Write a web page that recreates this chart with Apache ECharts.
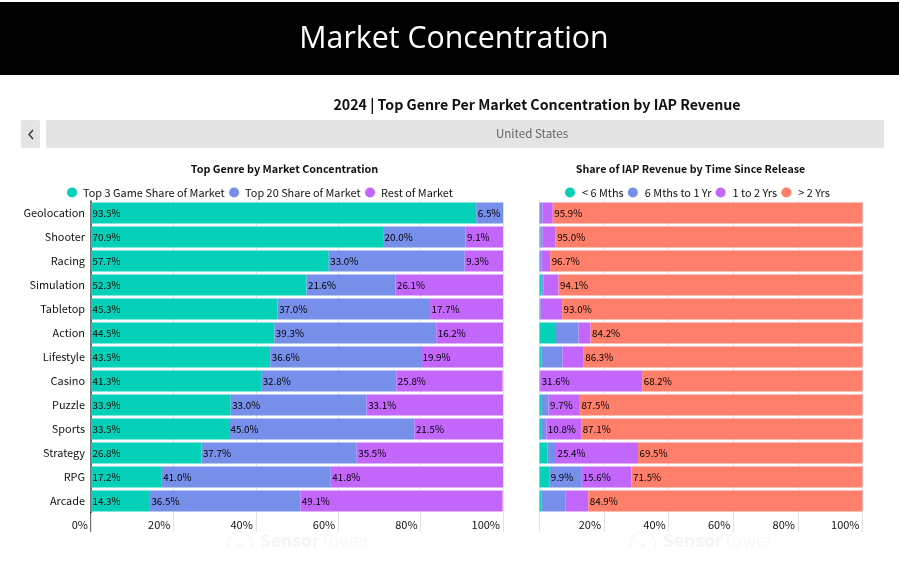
<!DOCTYPE html>
<html>
<head>
<meta charset="utf-8">
<title>Market Concentration</title>
<script src="https://cdn.jsdelivr.net/npm/echarts@6/dist/echarts.min.js"></script>
<style>
html, body { margin: 0; padding: 0; background: #fff; }
#main { width: 900px; height: 571px; }
</style>
</head>
<body>
<div id="main"></div>
<script>
var genres = ['Geolocation', 'Shooter', 'Racing', 'Simulation', 'Tabletop', 'Action', 'Lifestyle', 'Casino', 'Puzzle', 'Sports', 'Strategy', 'RPG', 'Arcade'];

// left panel
var top3Share = [93.5, 70.9, 57.7, 52.3, 45.3, 44.5, 43.5, 41.3, 33.9, 33.5, 26.8, 17.2, 14.3];
var top20Share = [6.5, 20.0, 33.0, 21.6, 37.0, 39.3, 36.6, 32.8, 33.0, 45.0, 37.7, 41.0, 36.5];
var restShare = [0, 9.1, 9.3, 26.1, 17.7, 16.2, 19.9, 25.8, 33.1, 21.5, 35.5, 41.8, 49.1];

// right panel
var under6m = [0.1, 0.3, 0.1, 0.7, 0.1, 5.1, 0.6, 0.1, 0.5, 0.5, 2.5, 3.0, 0.6];
var m6to1y = [0.8, 0.6, 0.5, 0.5, 0.3, 7.0, 6.5, 0.1, 2.3, 1.6, 2.6, 9.9, 7.4];
var y1to2 = [3.2, 4.1, 2.7, 4.7, 6.6, 3.7, 6.6, 31.6, 9.7, 10.8, 25.4, 15.6, 7.1];
var over2y = [95.9, 95.0, 96.7, 94.1, 93.0, 84.2, 86.3, 68.2, 87.5, 87.1, 69.5, 71.5, 84.9];

var TEAL = '#04d1b8', BLUE = '#768fe9', PURPLE = '#c366fb', CORAL = '#ff7f6a';
var FONT = '"Noto Sans CJK SC", "Noto Sans", sans-serif';

function barSeries(name, values, color, axisIndex, minLabel) {
    return {
        name: name,
        type: 'bar',
        stack: 'panel' + axisIndex,
        xAxisIndex: axisIndex,
        yAxisIndex: axisIndex,
        barWidth: 21,
        data: values,
        itemStyle: { color: color },
        label: {
            show: true,
            position: 'insideLeft',
            distance: 1.5,
            color: '#000',
            fontFamily: FONT,
            fontSize: 9.8,
            formatter: function (p) {
                return p.value >= minLabel ? p.value.toFixed(1) + '%' : '';
            }
        }
    };
}

function xAxisFor(gridIndex, hideZero) {
    return {
        type: 'value',
        gridIndex: gridIndex,
        min: 0,
        max: 100,
        interval: 20,
        axisLine: { show: false },
        axisTick: { show: true, inside: false, length: 19, lineStyle: { color: '#e2e2e2' } },
        splitLine: { show: true, lineStyle: { color: '#e2e2e2' } },
        axisLabel: {
            color: '#111',
            fontFamily: FONT,
            fontSize: 11,
            align: 'right',
            margin: 6,
            padding: [0, 3, 0, 0],
            formatter: function (v) { return (hideZero && v === 0) ? '' : v + '%'; }
        }
    };
}

function watermark(x) {
    return [
        { type: 'ring', shape: { cx: x, cy: 544, r: 13, r0: 11.5 }, style: { fill: '#f7f7f7' } },
        { type: 'circle', shape: { cx: x, cy: 546, r: 3 }, style: { fill: '#f7f7f7' } },
        {
            type: 'text', x: x + 20, y: 532,
            style: {
                text: '{a|Sensor}{b|Tower}',
                rich: {
                    a: { fontFamily: FONT, fontSize: 17.5, fontWeight: 'bold', fill: '#f5f5f5' },
                    b: { fontFamily: FONT, fontSize: 17.5, fill: '#f8f8f8' }
                }
            }
        }
    ];
}

var myChart = echarts.init(document.getElementById('main'), null, { renderer: 'canvas' });

var option = {
    backgroundColor: '#fff',
    animation: false,
    title: [
        { text: '2024 | Top Genre Per Market Concentration by IAP Revenue', left: 532, top: 93, textAlign: 'center',
          textStyle: { fontFamily: FONT, fontSize: 14.2, fontWeight: 'bold', color: '#111' } },
        { text: 'Top Genre by Market Concentration', left: 279.5, top: 159, textAlign: 'center',
          textStyle: { fontFamily: FONT, fontSize: 10.8, fontWeight: 'bold', color: '#111' } },
        { text: 'Share of IAP Revenue by Time Since Release', left: 685.5, top: 159, textAlign: 'center',
          textStyle: { fontFamily: FONT, fontSize: 10.7, fontWeight: 'bold', color: '#111' } }
    ],
    legend: [
        { left: 62, top: 182, itemWidth: 10, itemHeight: 10, itemGap: 4.5, icon: 'circle',
          data: ['Top 3 Game Share of Market', 'Top 20 Share of Market', 'Rest of Market'],
          textStyle: { fontFamily: FONT, fontSize: 10.9, color: '#111', padding: [0, 0, 0, 1] } },
        { left: 560, top: 182, itemWidth: 10, itemHeight: 10, itemGap: 4.2, icon: 'circle',
          data: ['< 6 Mths', '6 Mths to 1 Yr', '1 to 2 Yrs', '> 2 Yrs'],
          textStyle: { fontFamily: FONT, fontSize: 10.9, color: '#111', padding: [0, 0, 0, 2] } }
    ],
    grid: [
        { left: 91, width: 412, top: 201, height: 312 },
        { left: 539.5, width: 323, top: 201, height: 312 }
    ],
    xAxis: [xAxisFor(0, false), xAxisFor(1, true)],
    yAxis: [
        {
            type: 'category', gridIndex: 0, inverse: true, data: genres,
            axisLine: { show: true, lineStyle: { color: '#444', width: 1.5 } },
            axisTick: { show: false },
            axisLabel: { color: '#111', fontFamily: FONT, fontSize: 10.9, margin: 6 }
        },
        {
            type: 'category', gridIndex: 1, inverse: true, data: genres,
            axisLine: { show: false },
            axisTick: { show: false },
            axisLabel: { show: false }
        }
    ],
    series: [
        barSeries('Top 3 Game Share of Market', top3Share, TEAL, 0, 5),
        barSeries('Top 20 Share of Market', top20Share, BLUE, 0, 5),
        barSeries('Rest of Market', restShare, PURPLE, 0, 5),
        barSeries('< 6 Mths', under6m, TEAL, 1, 9),
        barSeries('6 Mths to 1 Yr', m6to1y, BLUE, 1, 9),
        barSeries('1 to 2 Yrs', y1to2, PURPLE, 1, 9),
        barSeries('> 2 Yrs', over2y, CORAL, 1, 9)
    ],
    graphic: [
        // header
        { type: 'rect', shape: { x: 0, y: 2, width: 899, height: 73 }, style: { fill: '#000' }, silent: true },
        { type: 'text', x: 454, y: 39, style: { text: 'Market Concentration', fill: '#fff', fontFamily: '"Open Sans", sans-serif', fontSize: 30.3, align: 'center', verticalAlign: 'middle' } },
        // filter bar
        { type: 'rect', shape: { x: 21, y: 120, width: 19, height: 28, r: 2 }, style: { fill: '#e4e4e4' } },
        { type: 'polyline', shape: { points: [[33, 130], [29, 134.5], [33, 139]] }, style: { stroke: '#333', lineWidth: 1.4, fill: null } },
        { type: 'rect', shape: { x: 46, y: 120, width: 838, height: 28, r: 2 }, style: { fill: '#e4e4e4' } },
        { type: 'text', x: 532, y: 134, style: { text: 'United States', fill: '#666', fontFamily: FONT, fontSize: 11.6, align: 'center', verticalAlign: 'middle' } },
        // axis line runs past the last bar down to the labels
        { type: 'line', shape: { x1: 91, y1: 512, x2: 91, y2: 532 }, style: { stroke: '#444', lineWidth: 1.5 } }
    ].concat(watermark(240), watermark(643), [
        { type: 'rect', shape: { x: 200, y: 547, width: 620, height: 24 }, style: { fill: '#fff' } }
    ])
};
myChart.setOption(option);
</script>
</body>
</html>
